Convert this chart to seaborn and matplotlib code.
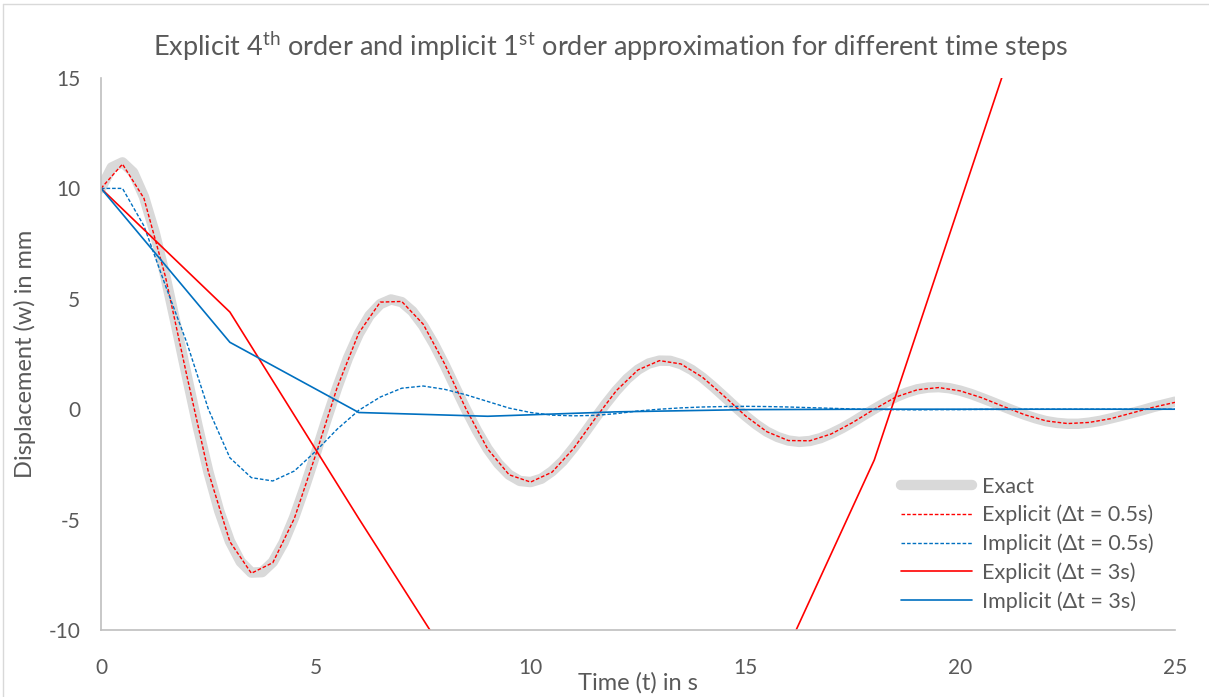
import numpy as np
import pandas as pd
import seaborn as sns
import matplotlib.pyplot as plt
from matplotlib.lines import Line2D

# exact solution, every 0.25 s
t_exact = [i * 0.25 for i in range(101)]
w_exact = [10.00, 10.95, 11.18, 10.72, 9.62, 8.00, 6.00, 3.78, 1.48, -0.77,
           -2.84, -4.60, -5.98, -6.91, -7.40, -7.38, -6.92, -6.05, -4.88, -3.49,
           -2.00, -0.47, 0.99, 2.32, 3.41, 4.24, 4.76, 4.97, 4.85, 4.43,
           3.78, 2.95, 2.00, 0.98, -0.03, -0.97, -1.80, -2.47, -2.97, -3.25,
           -3.30, -3.15, -2.81, -2.35, -1.75, -1.10, -0.42, 0.24, 0.85, 1.38,
           1.79, 2.07, 2.20, 2.19, 2.04, 1.78, 1.43, 1.02, 0.58, 0.13,
           -0.30, -0.69, -1.02, -1.26, -1.42, -1.48, -1.44, -1.31, -1.10, -0.86,
           -0.58, -0.28, 0.01, 0.29, 0.55, 0.75, 0.90, 0.98, 1.00, 0.95,
           0.84, 0.69, 0.51, 0.32, 0.12, -0.07, -0.25, -0.41, -0.54, -0.62,
           -0.66, -0.66, -0.61, -0.53, -0.42, -0.30, -0.17, -0.04, 0.10, 0.22,
           0.34]

# dt = 0.5 s
t_half = [i * 0.5 for i in range(51)]
w_expl_half = [10.0, 11.1, 9.55, 6.0, 1.5, -2.85, -6.0, -7.43, -6.95, -4.95,
               -2.05, 1.0, 3.45, 4.85, 4.88, 3.85, 2.05, 0.0, -1.8, -2.97,
               -3.3, -2.85, -1.78, -0.43, 0.85, 1.78, 2.2, 2.05, 1.45, 0.6,
               -0.3, -1.02, -1.42, -1.43, -1.12, -0.6, 0.0, 0.55, 0.88, 0.98,
               0.83, 0.52, 0.13, -0.25, -0.53, -0.65, -0.6, -0.43, -0.17, 0.09,
               0.31]
w_impl_half = [10.0, 10.0, 8.3, 5.6, 3.0, 0.0, -2.2, -3.1, -3.25, -2.8,
               -1.9, -0.9, -0.05, 0.55, 0.95, 1.05, 0.9, 0.65, 0.35, 0.05,
               -0.15, -0.27, -0.3, -0.28, -0.2, -0.08, 0.0, 0.06, 0.1, 0.12,
               0.13, 0.12, 0.1, 0.07, 0.04, 0.01, -0.01, -0.02, -0.03, -0.02,
               -0.02, -0.01, -0.01, 0.0, 0.0, 0.0, 0.0, 0.0, 0.0, 0.0,
               0.0]

# dt = 3 s
t_three = [0, 3, 6, 9, 12, 15, 18, 21, 24, 27]
w_expl_three = [10.0, 4.4, -4.95, -14.1, -19.5, -15.0, -2.3, 15.2, 30.0, 40.0]
w_impl_three = [10.0, 3.03, -0.15, -0.32, -0.12, -0.02, 0.0, 0.0, 0.0, 0.0]

sns.set_theme(style="white")
plt.rcParams["font.family"] = ["Lato", "DejaVu Sans"]
plt.rcParams["mathtext.fontset"] = "custom"
plt.rcParams["mathtext.rm"] = "Lato"
plt.rcParams["axes.unicode_minus"] = False

grey_txt = "#595959"
red = "#FF0000"
blue = "#0070C0"

fig = plt.figure(figsize=(12.09, 6.97), dpi=100)
ax = fig.add_axes([101 / 1209, 1 - 630 / 697, 1074 / 1209, 552 / 697])

sns.lineplot(x=t_exact, y=w_exact, ax=ax, color="#D9D9D9", lw=7.5,
             solid_capstyle="round", label="Exact")
sns.lineplot(x=t_half, y=w_expl_half, ax=ax, color=red, lw=1.0,
             linestyle=(0, (2.6, 1.4)), label="Explicit (Δt = 0.5s)")
sns.lineplot(x=t_half, y=w_impl_half, ax=ax, color=blue, lw=1.0,
             linestyle=(0, (2.6, 1.4)), label="Implicit (Δt = 0.5s)")
sns.lineplot(x=t_three, y=w_expl_three, ax=ax, color=red, lw=1.2,
             label="Explicit (Δt = 3s)")
sns.lineplot(x=t_three, y=w_impl_three, ax=ax, color=blue, lw=1.2,
             label="Implicit (Δt = 3s)")

ax.set_xlim(0, 25)
ax.set_ylim(-10, 15)
ax.set_xticks(range(0, 26, 5))
ax.set_yticks(range(-10, 16, 5))
ax.tick_params(axis="both", length=0, labelsize=15, colors=grey_txt)
ax.tick_params(axis="x", pad=20)
ax.tick_params(axis="y", pad=15)

for side in ["top", "right"]:
    ax.spines[side].set_visible(False)
for side in ["left", "bottom"]:
    ax.spines[side].set_color("#BFBFBF")
    ax.spines[side].set_linewidth(1.2)

ax.set_xlabel("Time (t) in s", fontsize=17, color=grey_txt, labelpad=-4)
ax.set_ylabel("Displacement (w) in mm", fontsize=17, color=grey_txt, labelpad=9)

fig.text(0.505, 1 - 46 / 697,
         r"Explicit 4$^{\mathrm{th}}$ order and implicit 1$^{\mathrm{st}}$ order approximation for different time steps",
         ha="center", va="center", fontsize=19.5, color=grey_txt)

leg = ax.legend(loc="lower right", bbox_to_anchor=(1.0, -0.006), frameon=False,
                fontsize=15.5, handlelength=3.3, handletextpad=0.45,
                labelspacing=0.38, borderaxespad=0.6)
for txt in leg.get_texts():
    txt.set_color(grey_txt)

# chart area border like the spreadsheet frame
fig.add_artist(Line2D([3 / 1209, 1], [1 - 4 / 697, 1 - 4 / 697],
                      transform=fig.transFigure, color="#D9D9D9", lw=1))
fig.add_artist(Line2D([3 / 1209, 3 / 1209], [0, 1 - 4 / 697],
                      transform=fig.transFigure, color="#D9D9D9", lw=1))

fig.savefig("out.png", dpi=100)
